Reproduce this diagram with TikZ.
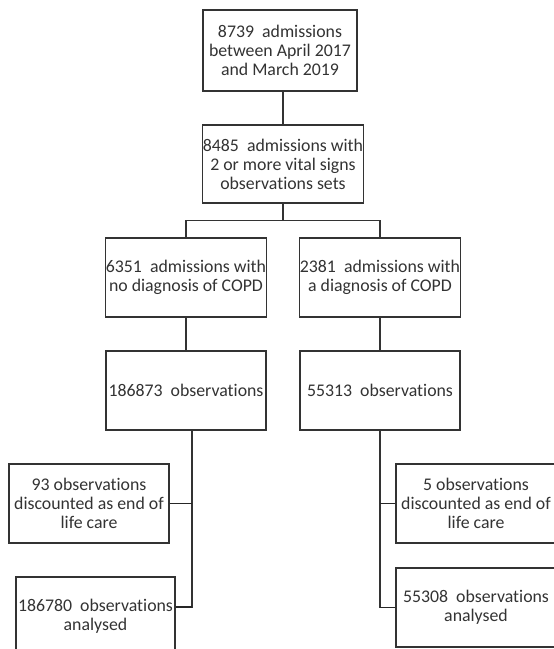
\documentclass[tikz,border=0pt]{standalone}
\usepackage{fontspec}
\setmainfont{Carlito}[Ligatures=NoCommon]
\usetikzlibrary{calc}
\definecolor{ink}{HTML}{333333}
\tikzset{
  box/.style={draw=ink, line width=1.1pt, fill=white, inner sep=0pt, align=center,
    text=ink, font=\fontsize{17.8}{19}\selectfont, minimum width=160pt, minimum height=79pt},
  link/.style={draw=ink, line width=1.1pt},
  side/.style={draw=black!85, line width=1.8pt}
}
\begin{document}
\begin{tikzpicture}[x=1pt,y=-1pt]
\useasboundingbox (0,0) rectangle (554,649);
\clip (0,0) rectangle (554,649);
\node[box, minimum width=154pt, minimum height=81pt] (b1) at (280,50.5) {8739\ \ admissions\\between April 2017\\and March 2019};
\node[box, minimum height=78pt] (b2) at (283,164) {8485\ \ admissions with\\2 or more vital signs\\observations sets};
\node[box] (b3) at (186,277.5) {6351\ \ admissions with\\no diagnosis of COPD};
\node[box] (b4) at (380,277.5) {2381\ \ admissions with\\a diagnosis of COPD};
\node[box] (b5) at (186,390.5) {186873\ \ observations};
\node[box] (b6) at (380,390.5) {55313\ \ observations};
\node[box] (b7) at (89,503.5) {93 observations\\discounted as end of\\life care};
\node[box, minimum width=159pt] (b8) at (95.5,616.5) {186780\ \ observations\\analysed};
\node[box] (b9) at (476,503.5) {5 observations\\discounted as end of\\life care};
\node[box] (b10) at (476,607.5) {55308\ \ observations\\analysed};

\coordinate (split) at ($(b2.south)+(0,17)$);
\draw[link] (b1.south -| b2.north) -- (b2.north);
\draw[link] (b2.south) -- (split);
\draw[link] (split) -| (b3.north);
\draw[link] (split) -| (b4.north);
\draw[link] (b3.south) -- (b5.north);
\draw[link] (b4.south) -- (b6.north);

\coordinate (ltop) at ($(b5.south)+(6,0)$);
\coordinate (lend) at ($(b8.east)+(0,-9.5)$);
\draw[link] (ltop) |- (lend);
\draw[side] (b7.east) -- (b7.east -| ltop);
\draw[side] (lend) -- (lend -| ltop);

\draw[link] (b6.south) |- (b10.west);
\draw[side] (b9.west) -- (b9.west -| b6.south);
\draw[side] (b10.west) -- (b10.west -| b6.south);
\end{tikzpicture}
\end{document}
